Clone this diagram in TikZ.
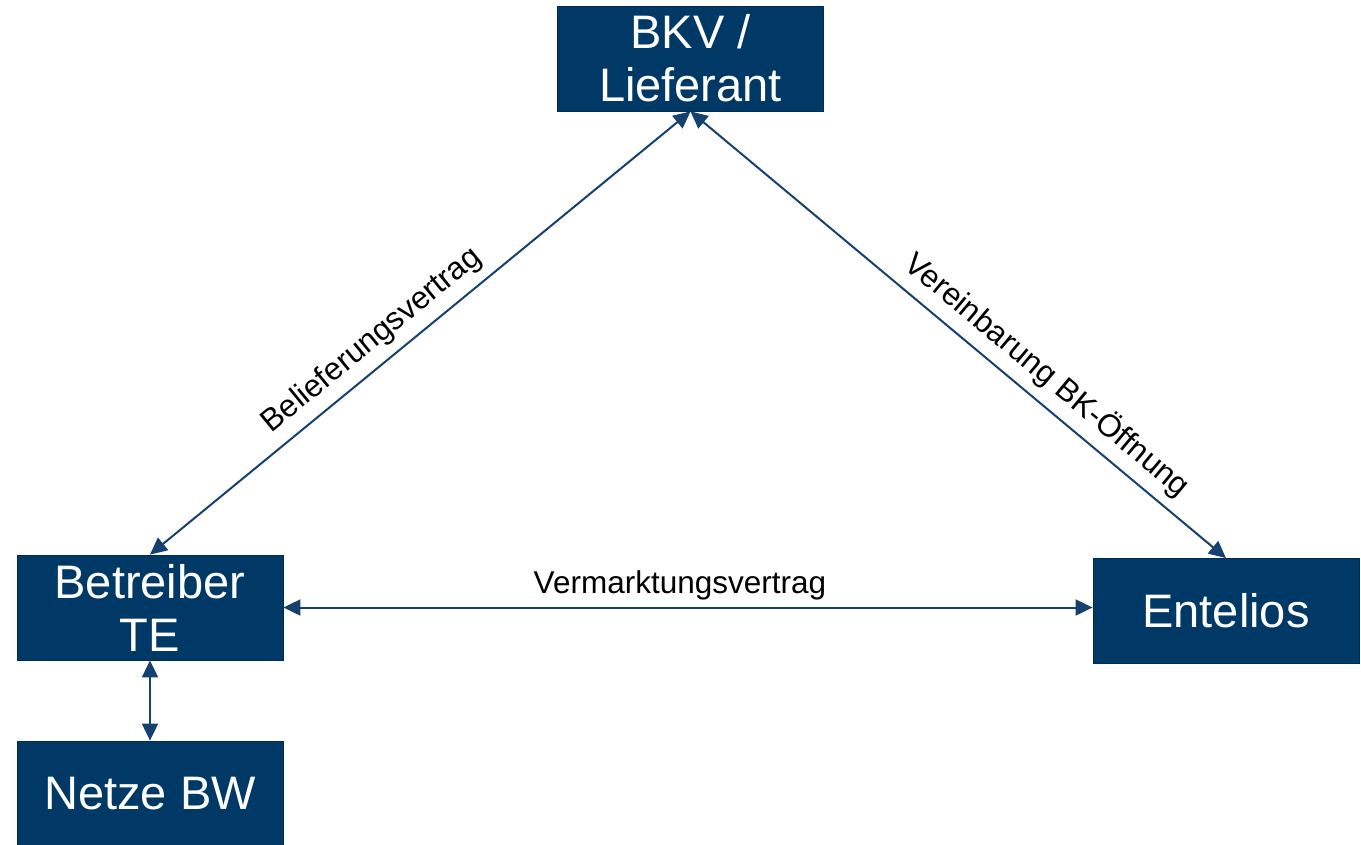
\documentclass[tikz,border=0pt]{standalone}
\usepackage{fontspec}
\setmainfont{Liberation Sans}
\usetikzlibrary{arrows.meta}
\definecolor{boxblue}{RGB}{0,57,102}
\definecolor{lineblue}{RGB}{22,64,112}

\tikzset{
	partner/.style={draw=boxblue!80!black, line width=0.8pt, fill=boxblue, text=white,
		minimum width=266pt, minimum height=105pt, align=center, inner sep=2pt,
		font=\fontsize{47}{53}\selectfont},
	link/.style={lineblue, line width=2pt, {Triangle[length=17pt,width=16pt]}-{Triangle[length=17pt,width=16pt]}},
	contract/.style={text=black, font=\fontsize{31.5}{36}\selectfont, inner sep=2pt}
}

\begin{document}
\begin{tikzpicture}[x=1pt, y=-1pt]
	\useasboundingbox (0,0) rectangle (1361,844);
	%% partners
	\node[partner] (bkv) at (690.5,58.5) {BKV /\\Lieferant};
	\node[partner] (betreiber) at (150,607.5) {Betreiber\\TE};
	\node[partner] (entelios) at (1226,611) {Entelios};
	\node[partner] (netze) at (150,793.5) {Netze BW};
	%% contracts
	\draw[link] (betreiber.north) -- node[contract, sloped, above=7pt, pos=0.44] {Belieferungsvertrag} (bkv.south);
	\draw[link] (bkv.south) -- node[contract, sloped, above=7pt, pos=0.635] {Vereinbarung BK-Öffnung} (entelios.north);
	\draw[link] (betreiber.east) -- node[contract, above=4pt, pos=0.49] {Vermarktungsvertrag} (betreiber.east -| entelios.west);
	\draw[link] (betreiber.south) -- (netze.north);
\end{tikzpicture}
\end{document}
